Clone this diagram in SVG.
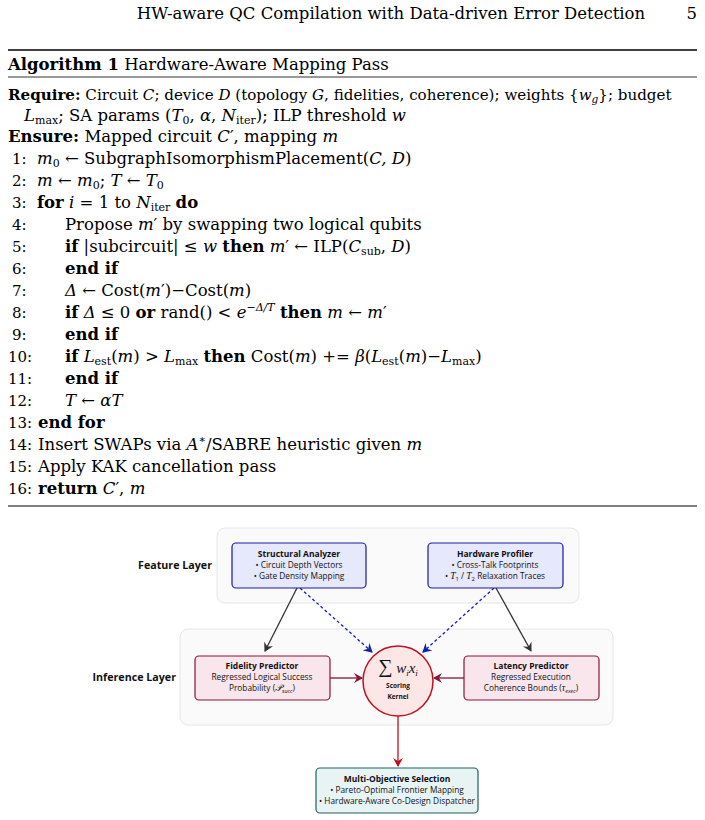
<svg xmlns="http://www.w3.org/2000/svg" width="705" height="820" viewBox="0 0 705 820">
<style>
.t{font-family:"DejaVu Serif","Liberation Serif",serif;font-size:16.5px;fill:#000}
.n{font-size:15px}
.r{font-size:15.1px}
.i{font-style:italic}
.b{font-weight:bold}
.s{font-family:"Open Sans","Liberation Sans",sans-serif;fill:#111}
.nb{font-weight:bold;font-size:8.5px}
.nt{font-size:8.3px}
.lab{font-family:"Open Sans","Liberation Sans",sans-serif;font-weight:bold;font-size:10.7px;fill:#111}
</style>
<defs>
<marker id="ag" markerWidth="10" markerHeight="10" refX="8" refY="5" orient="auto" markerUnits="userSpaceOnUse"><path d="M0,0 L9,5 L0,10 L3,5 Z" fill="#333"/></marker>
<marker id="ab" markerWidth="10" markerHeight="10" refX="8" refY="5" orient="auto" markerUnits="userSpaceOnUse"><path d="M0,0 L9,5 L0,10 L3,5 Z" fill="#1020b0"/></marker>
<marker id="ar" markerWidth="10" markerHeight="10" refX="8" refY="5" orient="auto" markerUnits="userSpaceOnUse"><path d="M0,0 L9,5 L0,10 L3,5 Z" fill="#8a1538"/></marker>
<marker id="ar2" markerWidth="10" markerHeight="10" refX="8" refY="5" orient="auto" markerUnits="userSpaceOnUse"><path d="M0,0 L9,5 L0,10 L3,5 Z" fill="#c01020"/></marker>
</defs>
<rect width="705" height="820" fill="#fff"/>
<text class="t" x="391" y="19" text-anchor="middle">HW-aware QC Compilation with Data-driven Error Detection</text>
<text class="t" x="697" y="19" text-anchor="end">5</text>
<line x1="8" y1="50" x2="697" y2="50" stroke="#000" stroke-width="1.6"/>
<text class="t" x="8" y="70"><tspan class="b">Algorithm 1</tspan> Hardware-Aware Mapping Pass</text>
<line x1="8" y1="77" x2="697" y2="77" stroke="#000" stroke-width="0.8"/>
<text class="t r" x="8" y="100"><tspan class="b">Require:</tspan> Circuit <tspan class="i">C</tspan>; device <tspan class="i">D</tspan> (topology <tspan class="i">G</tspan>, fidelities, coherence); weights {<tspan class="i">w</tspan><tspan font-size="10.5" class="i" dy="3">g</tspan><tspan dy="-3">}; budget</tspan></text>
<text class="t" x="24" y="121"><tspan class="i">L</tspan><tspan font-size="11" dy="3">max</tspan><tspan dy="-3">; SA params (</tspan><tspan class="i">T</tspan><tspan font-size="11" dy="3">0</tspan><tspan dy="-3">, </tspan><tspan class="i">α</tspan>, <tspan class="i">N</tspan><tspan font-size="11" dy="3">iter</tspan><tspan dy="-3">); ILP threshold </tspan><tspan class="i">w</tspan></text>
<text class="t" x="8" y="142"><tspan class="b">Ensure:</tspan> Mapped circuit <tspan class="i">C</tspan>′, mapping <tspan class="i">m</tspan></text>
<g id="lines">
<text class="t n" x="12" y="164">1:</text><text class="t" x="37" y="164"><tspan class="i">m</tspan><tspan font-size="11" dy="3">0</tspan><tspan dy="-3"> ← SubgraphIsomorphismPlacement(</tspan><tspan class="i">C, D</tspan>)</text>
<text class="t n" x="12" y="186">2:</text><text class="t" x="37" y="186"><tspan class="i">m</tspan> ← <tspan class="i">m</tspan><tspan font-size="11" dy="3">0</tspan><tspan dy="-3">;  </tspan><tspan class="i">T</tspan> ← <tspan class="i">T</tspan><tspan font-size="11" dy="3">0</tspan></text>
<text class="t n" x="12" y="208">3:</text><text class="t" x="37" y="208"><tspan class="b">for</tspan> <tspan class="i">i</tspan> = 1 to <tspan class="i">N</tspan><tspan font-size="11" dy="3">iter</tspan><tspan dy="-3"> </tspan><tspan class="b">do</tspan></text>
<text class="t n" x="12" y="230">4:</text><text class="t" x="65" y="230">Propose <tspan class="i">m</tspan>′ by swapping two logical qubits</text>
<text class="t n" x="12" y="252">5:</text><text class="t" x="65" y="252"><tspan class="b">if</tspan> |subcircuit| ≤ <tspan class="i">w</tspan> <tspan class="b">then</tspan>  <tspan class="i">m</tspan>′ ← ILP(<tspan class="i">C</tspan><tspan font-size="11" dy="3">sub</tspan><tspan dy="-3">, </tspan><tspan class="i">D</tspan>)</text>
<text class="t n" x="12" y="274">6:</text><text class="t" x="65" y="274" font-weight="bold">end if</text>
<text class="t n" x="12" y="296">7:</text><text class="t" x="65" y="296"><tspan class="i">Δ</tspan> ← Cost(<tspan class="i">m</tspan>′)−Cost(<tspan class="i">m</tspan>)</text>
<text class="t n" x="12" y="318">8:</text><text class="t" x="65" y="318"><tspan class="b">if</tspan> <tspan class="i">Δ</tspan> ≤ 0 <tspan class="b">or</tspan> rand() &lt; <tspan class="i">e</tspan><tspan font-size="11" dy="-7" class="i">−Δ/T</tspan><tspan dy="7"> </tspan><tspan class="b">then</tspan>  <tspan class="i">m</tspan> ← <tspan class="i">m</tspan>′</text>
<text class="t n" x="12" y="340">9:</text><text class="t" x="65" y="340" font-weight="bold">end if</text>
<text class="t n" x="8" y="362">10:</text><text class="t" x="65" y="362"><tspan class="b">if</tspan> <tspan class="i">L</tspan><tspan font-size="11" dy="3">est</tspan><tspan dy="-3">(</tspan><tspan class="i">m</tspan>) &gt; <tspan class="i">L</tspan><tspan font-size="11" dy="3">max</tspan><tspan dy="-3"> </tspan><tspan class="b">then</tspan>  Cost(<tspan class="i">m</tspan>) += <tspan class="i">β</tspan>(<tspan class="i">L</tspan><tspan font-size="11" dy="3">est</tspan><tspan dy="-3">(</tspan><tspan class="i">m</tspan>)−<tspan class="i">L</tspan><tspan font-size="11" dy="3">max</tspan><tspan dy="-3">)</tspan></text>
<text class="t n" x="8" y="384">11:</text><text class="t" x="65" y="384" font-weight="bold">end if</text>
<text class="t n" x="8" y="406">12:</text><text class="t" x="65" y="406"><tspan class="i">T</tspan> ← <tspan class="i">αT</tspan></text>
<text class="t n" x="8" y="428">13:</text><text class="t" x="38" y="428" font-weight="bold">end for</text>
<text class="t n" x="8" y="450">14:</text><text class="t" x="38" y="450">Insert SWAPs via <tspan class="i">A</tspan><tspan font-size="11" dy="-7">∗</tspan><tspan dy="7">/SABRE heuristic given </tspan><tspan class="i">m</tspan></text>
<text class="t n" x="8" y="472">15:</text><text class="t" x="38" y="472">Apply KAK cancellation pass</text>
<text class="t n" x="8" y="494">16:</text><text class="t" x="38" y="494"><tspan class="b">return</tspan> <tspan class="i">C</tspan>′, <tspan class="i">m</tspan></text>
</g>
<line x1="8" y1="506" x2="697" y2="506" stroke="#000" stroke-width="1"/>

<rect x="217" y="528" width="362" height="75" rx="8" fill="#fafafa" stroke="#e6e6e6"/>
<rect x="180" y="629" width="433" height="96" rx="8" fill="#fafafa" stroke="#e6e6e6"/>
<text class="lab" x="212" y="569" text-anchor="end">Feature Layer</text>
<text class="lab" x="176" y="681" text-anchor="end">Inference Layer</text>

<g id="conn" fill="none" stroke-width="1.3">
<line x1="297" y1="588" x2="265" y2="651" stroke="#333" marker-end="url(#ag)"/>
<line x1="496" y1="588" x2="531" y2="651" stroke="#333" marker-end="url(#ag)"/>
<line x1="300" y1="588" x2="372" y2="652" stroke="#1020b0" stroke-dasharray="3,2.5" marker-end="url(#ab)"/>
<line x1="494" y1="588" x2="423" y2="652" stroke="#1020b0" stroke-dasharray="3,2.5" marker-end="url(#ab)"/>
<line x1="330" y1="678" x2="362" y2="678" stroke="#8a1538" marker-end="url(#ar)"/>
<line x1="464" y1="678" x2="434" y2="678" stroke="#8a1538" marker-end="url(#ar)"/>
<line x1="398" y1="716" x2="398" y2="766" stroke="#c01020" marker-end="url(#ar2)"/>
</g>

<g id="structural">
<rect x="232" y="543" width="134" height="45" rx="4" fill="#e6e8fc" stroke="#1a1aa0" stroke-width="1.2"/>
<text class="s nb" x="299" y="557" text-anchor="middle">Structural Analyzer</text>
<text class="s nt" x="299" y="568" text-anchor="middle">• Circuit Depth Vectors</text>
<text class="s nt" x="299" y="579" text-anchor="middle">• Gate Density Mapping</text>
</g>
<g id="hardware">
<rect x="428" y="543" width="135" height="45" rx="4" fill="#e6e8fc" stroke="#1a1aa0" stroke-width="1.2"/>
<text class="s nb" x="495" y="557" text-anchor="middle">Hardware Profiler</text>
<text class="s nt" x="495" y="568" text-anchor="middle">• Cross-Talk Footprints</text>
<text class="s nt" x="495" y="579" text-anchor="middle">• <tspan font-family="Liberation Serif" font-style="italic" font-size="9.5">T</tspan><tspan font-size="6" dy="2">1</tspan><tspan dy="-2"> / </tspan><tspan font-family="Liberation Serif" font-style="italic" font-size="9.5">T</tspan><tspan font-size="6" dy="2">2</tspan><tspan dy="-2"> Relaxation Traces</tspan></text>
</g>
<g id="fidelity">
<rect x="195" y="656" width="135" height="44" rx="4" fill="#f9e6ec" stroke="#8a1538" stroke-width="1.2"/>
<text class="s nb" x="262" y="669" text-anchor="middle">Fidelity Predictor</text>
<text class="s nt" x="262" y="680" text-anchor="middle">Regressed Logical Success</text>
<text class="s nt" x="262" y="691" text-anchor="middle">Probability (<tspan font-family="Liberation Serif" font-style="italic" font-size="9.5">𝒫</tspan><tspan font-size="5.5" dy="2" font-style="italic">succ</tspan><tspan dy="-2">)</tspan></text>
</g>
<g id="latency">
<rect x="464" y="656" width="135" height="44" rx="4" fill="#f9e6ec" stroke="#8a1538" stroke-width="1.2"/>
<text class="s nb" x="531" y="669" text-anchor="middle">Latency Predictor</text>
<text class="s nt" x="531" y="680" text-anchor="middle">Regressed Execution</text>
<text class="s nt" x="531" y="691" text-anchor="middle">Coherence Bounds (<tspan font-family="Liberation Serif" font-style="italic" font-size="9.5">τ</tspan><tspan font-size="5.5" dy="2" font-style="italic">exec</tspan><tspan dy="-2">)</tspan></text>
</g>
<g id="kernel">
<circle cx="398" cy="681" r="35" fill="#fce6e6" stroke="#c01020" stroke-width="1.5"/>
<text x="398" y="673" text-anchor="middle" font-family="Liberation Serif" font-size="15" fill="#111"><tspan font-size="20">∑</tspan> <tspan font-style="italic">w</tspan><tspan font-size="9" font-style="italic" dy="3">i</tspan><tspan font-style="italic" dy="-3">x</tspan><tspan font-size="9" font-style="italic" dy="3">i</tspan></text>
<text class="s" x="398" y="688" text-anchor="middle" font-size="6.5" font-weight="bold">Scoring</text>
<text class="s" x="398" y="699" text-anchor="middle" font-size="6.5" font-weight="bold">Kernel</text>
</g>
<g id="selection">
<rect x="316" y="768" width="162" height="45" rx="4" fill="#e8f4f4" stroke="#1f6060" stroke-width="1.2"/>
<text class="s nb" x="397" y="782" text-anchor="middle">Multi-Objective Selection</text>
<text class="s nt" x="397" y="793" text-anchor="middle">• Pareto-Optimal Frontier Mapping</text>
<text class="s nt" x="397" y="804" text-anchor="middle">• Hardware-Aware Co-Design Dispatcher</text>
</g>
</svg>
